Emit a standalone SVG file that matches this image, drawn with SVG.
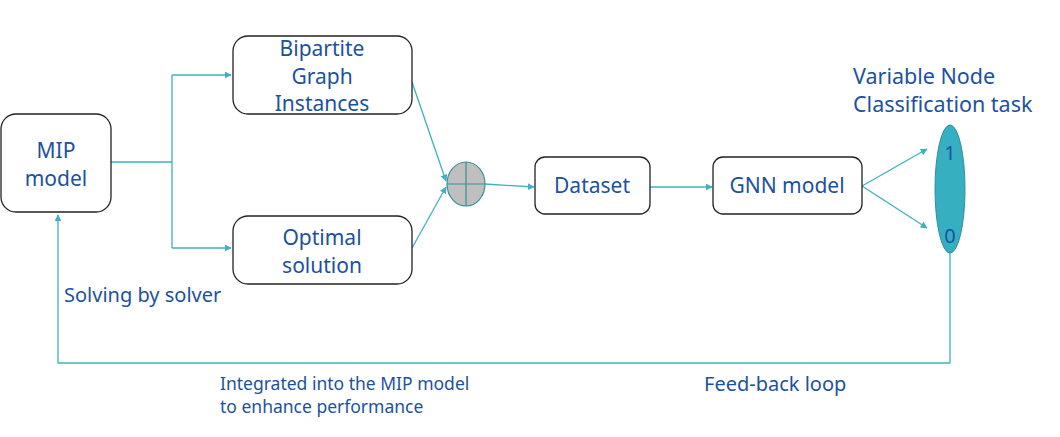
<svg xmlns="http://www.w3.org/2000/svg" width="1060" height="437" viewBox="0 0 1060 437">
<defs>
<style>
.box{fill:#fff;stroke:#222;stroke-width:1.3}
.t{font-family:"Noto Sans","Open Sans",sans-serif;fill:#1c51a0}
.bt{font-size:21px;text-anchor:middle}
.ln{fill:none;stroke:#3fb1c0;stroke-width:1.3}
</style>
<marker id="ah" viewBox="0 0 10 10" refX="9" refY="5" markerWidth="7" markerHeight="7" orient="auto" markerUnits="userSpaceOnUse">
<path d="M0,0 L10,5 L0,10 z" fill="#3fb1c0"/>
</marker>
</defs>
<rect width="1060" height="437" fill="#fff"/>
<g id="connectors">
<path class="ln" d="M111,162 H172"/>
<path class="ln" d="M172,75 V248"/>
<path class="ln" d="M172,75 H231" marker-end="url(#ah)"/>
<path class="ln" d="M172,248 H231" marker-end="url(#ah)"/>
<path class="ln" d="M412,82 L446,181" marker-end="url(#ah)"/>
<path class="ln" d="M412,248 L446,187" marker-end="url(#ah)"/>
<path class="ln" d="M485,184 L534,187" marker-end="url(#ah)"/>
<path class="ln" d="M650,187 H712" marker-end="url(#ah)"/>
<path class="ln" d="M862,186 L927,149" marker-end="url(#ah)"/>
<path class="ln" d="M862,186 L927,228" marker-end="url(#ah)"/>
<path class="ln" d="M950,253 V363 H58 V215" marker-end="url(#ah)"/>
</g>
<g id="mip">
<rect class="box" x="1" y="114" width="110" height="98" rx="15"/>
<text class="t bt" x="56" y="158">MIP</text>
<text class="t bt" x="56" y="186">model</text>
</g>
<g id="bipartite">
<rect class="box" x="233" y="36" width="179" height="78" rx="15"/>
<text class="t bt" x="322" y="56">Bipartite</text>
<text class="t bt" x="322" y="84">Graph</text>
<text class="t bt" x="322" y="111">Instances</text>
</g>
<g id="optimal">
<rect class="box" x="233" y="216" width="179" height="68" rx="15"/>
<text class="t bt" x="322" y="245">Optimal</text>
<text class="t bt" x="322" y="273">solution</text>
</g>
<g id="combine">
<ellipse cx="466" cy="184" rx="19" ry="22" fill="#bfbfbf" stroke="#3a8f99" stroke-width="1.2"/>
<path d="M447,184 H485 M466,162 V206" stroke="#3a8f99" stroke-width="1.2"/>
</g>
<g id="dataset">
<rect class="box" x="535" y="157" width="115" height="57" rx="10"/>
<text class="t bt" x="592" y="193">Dataset</text>
</g>
<g id="gnn">
<rect class="box" x="713" y="157" width="149" height="57" rx="10"/>
<text class="t bt" x="787" y="193">GNN model</text>
</g>
<g id="classes">
<ellipse cx="950" cy="189" rx="15" ry="64" fill="#36b0c0" stroke="#2a8f9c" stroke-width="1"/>
<text class="t" x="950" y="160" font-size="20" text-anchor="middle">1</text>
<text class="t" x="950" y="243" font-size="20" text-anchor="middle">0</text>
</g>
<g id="labels">
<text class="t" x="853" y="84" font-size="21.5">Variable Node</text>
<text class="t" x="853" y="112" font-size="21.5">Classification task</text>
<text class="t" x="64" y="302" font-size="20">Solving by solver</text>
<text class="t" x="220" y="390" font-size="17.5">Integrated into the MIP model</text>
<text class="t" x="220" y="413" font-size="17.5">to enhance performance</text>
<text class="t" x="704" y="391" font-size="20">Feed-back loop</text>
</g>
</svg>
